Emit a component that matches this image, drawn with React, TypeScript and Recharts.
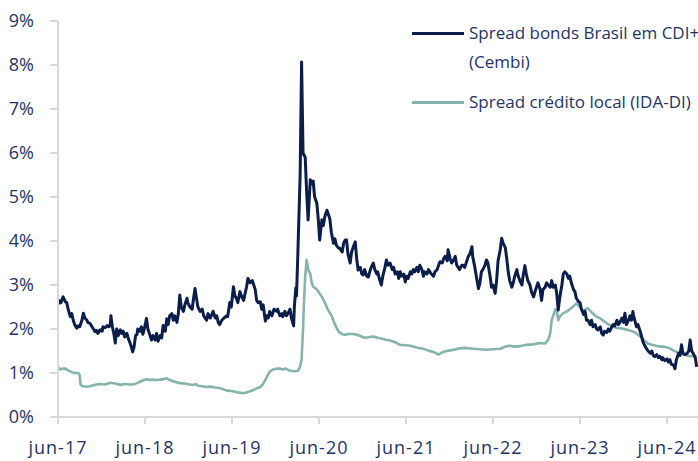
import React from "react";
import { LineChart, Line, XAxis, YAxis } from "recharts";

// x = months since jun-17, y = spread in %
const cembiMonths = [
  0, 0.1, 0.4, 0.7, 1.0, 1.2, 1.4, 1.7, 1.9, 2.1, 2.3, 2.6, 2.8, 3.0, 3.3, 3.5, 3.7, 4.0, 4.1, 4.4,
  4.7, 4.9, 5.1, 5.3, 5.5, 5.8, 6.1, 6.2, 6.5, 6.8, 7.0, 7.2, 7.3, 7.5, 7.7, 7.9, 8.1, 8.3, 8.6, 8.8,
  9.0, 9.2, 9.5, 9.7, 9.9, 10.1, 10.3, 10.5, 10.7, 10.9, 11.0, 11.3, 11.5, 11.7, 11.9, 12.2, 12.4, 12.6, 12.9, 13.1,
  13.4, 13.6, 13.8, 14.1, 14.3, 14.5, 14.8, 15.0, 15.2, 15.4, 15.7, 15.9, 16.1, 16.4, 16.6, 16.8, 17.0, 17.3, 17.5, 17.8,
  17.9, 18.2, 18.5, 18.7, 18.9, 19.1, 19.3, 19.6, 19.9, 20.1, 20.5, 20.7, 21.0, 21.2, 21.4, 21.7, 21.9, 22.1, 22.3, 22.6,
  22.9, 23.3, 23.4, 23.7, 23.9, 24.2, 24.4, 24.6, 24.8, 25.1, 25.3, 25.6, 25.8, 26.0, 26.2, 26.5, 26.8, 26.9, 27.2, 27.4,
  27.6, 27.9, 28.1, 28.3, 28.6, 28.8, 29.0, 29.2, 29.5, 29.8, 30.2, 30.3, 30.6, 30.9, 31.0, 31.3, 31.5, 31.7, 32.0, 32.2,
  32.5, 32.6, 32.8, 32.9, 33.1, 33.4, 33.6, 33.8, 34.1, 34.3, 34.5, 34.8, 35.0, 35.2, 35.4, 35.7, 35.9, 36.1, 36.4, 36.6,
  36.8, 37.1, 37.2, 37.5, 37.7, 38.0, 38.2, 38.4, 38.7, 38.9, 39.2, 39.4, 39.6, 39.8, 40.0, 40.3, 40.5, 40.7, 41.0, 41.2,
  41.4, 41.7, 41.9, 42.1, 42.3, 42.6, 42.8, 43.0, 43.2, 43.5, 43.7, 44.0, 44.1, 44.4, 44.6, 44.8, 45.1, 45.3, 45.5, 45.8,
  46.1, 46.3, 46.5, 46.8, 47.0, 47.2, 47.4, 47.7, 47.9, 48.1, 48.3, 48.6, 48.8, 49.0, 49.2, 49.5, 49.7, 49.9, 50.2, 50.4,
  50.6, 50.9, 51.1, 51.3, 51.5, 51.8, 52.0, 52.3, 52.5, 52.7, 53.0, 53.2, 53.4, 53.7, 53.8, 54.1, 54.3, 54.5, 54.8, 55.0,
  55.2, 55.4, 55.7, 55.9, 56.1, 56.4, 56.6, 56.8, 57.1, 57.2, 57.5, 57.8, 58.0, 58.2, 58.4, 58.6, 58.9, 59.1, 59.3, 59.6,
  59.8, 60.0, 60.3, 60.5, 60.7, 61.0, 61.2, 61.4, 61.7, 61.9, 62.1, 62.3, 62.6, 62.8, 63.0, 63.3, 63.4, 63.7, 64.0, 64.1,
  64.4, 64.6, 64.8, 65.1, 65.3, 65.6, 65.8, 66.1, 66.2, 66.5, 66.7, 66.9, 67.2, 67.4, 67.6, 67.9, 68.1, 68.3, 68.6, 68.8,
  69.0, 69.2, 69.5, 69.7, 69.9, 70.2, 70.4, 70.6, 70.8, 71.1, 71.3, 71.5, 71.8, 72.0, 72.2, 72.5, 72.7, 72.9, 73.1, 73.4,
  73.6, 73.8, 74.1, 74.3, 74.5, 74.8, 75.0, 75.2, 75.4, 75.7, 75.9, 76.1, 76.4, 76.6, 76.8, 77.1, 77.3, 77.5, 77.8, 78.0,
  78.2, 78.4, 78.7, 78.9, 79.1, 79.3, 79.4, 79.8, 80.0, 80.3, 80.5, 80.7, 81.0, 81.2, 81.4, 81.7, 81.9, 82.1, 82.3, 82.6,
  82.8, 83.0, 83.3, 83.4, 83.7, 84.0, 84.2, 84.4, 84.6, 84.9, 85.1, 85.3, 85.6, 85.8, 86.0, 86.2, 86.5, 86.8, 87.0, 87.2,
  87.4, 87.6, 87.9, 88.1,
];
const cembiValues = [
  2.55, 2.65, 2.6, 2.73, 2.62, 2.6, 2.45, 2.28, 2.35, 2.2, 2.1, 2.02, 2.07, 2.05, 2.2, 2.36, 2.25, 2.2, 2.15, 2.13,
  2.05, 2.0, 1.94, 1.97, 1.9, 1.98, 1.95, 2.05, 2.03, 2.08, 2.05, 2.08, 2.3, 2.05, 1.9, 1.68, 2.0, 1.85, 1.98, 1.9,
  1.95, 1.82, 1.9, 1.78, 1.7, 1.6, 1.48, 1.6, 1.85, 1.88, 2.0, 1.95, 2.05, 1.88, 2.0, 2.24, 2.0, 1.9, 1.75, 1.85,
  1.75, 1.9, 1.72, 1.85, 1.8, 2.08, 1.95, 2.23, 2.1, 2.3, 2.35, 2.2, 2.3, 2.15, 2.35, 2.77, 2.5, 2.4, 2.55, 2.7,
  2.6, 2.5, 2.45, 2.7, 2.92, 2.7, 2.5, 2.4, 2.45, 2.3, 2.2, 2.35, 2.25, 2.32, 2.4, 2.25, 2.3, 2.15, 2.1, 2.2,
  2.25, 2.3, 2.28, 2.6, 2.5, 2.96, 2.75, 2.7, 2.6, 2.85, 2.75, 2.65, 2.8, 2.95, 3.15, 3.05, 3.1, 3.05, 2.9, 2.65,
  2.6, 2.62, 2.45, 2.55, 2.18, 2.3, 2.25, 2.4, 2.3, 2.45, 2.4, 2.45, 2.3, 2.35, 2.28, 2.4, 2.3, 2.35, 2.45, 2.25,
  2.07, 2.5, 2.93, 2.75, 3.8, 5.5, 8.07, 6.0, 5.9, 5.09, 4.48, 5.39, 5.3, 5.36, 5.0, 4.86, 4.5, 4.02, 4.48, 4.35,
  4.55, 4.7, 4.65, 4.5, 4.2, 3.95, 4.05, 3.9, 3.84, 3.83, 3.75, 3.95, 4.02, 4.02, 3.7, 3.5, 3.75, 3.85, 3.98, 3.6,
  3.34, 3.4, 3.25, 3.23, 3.35, 3.2, 3.18, 3.3, 3.4, 3.5, 3.35, 3.25, 3.3, 3.1, 3.0, 3.2, 3.4, 3.57, 3.45, 3.5,
  3.35, 3.4, 3.25, 3.3, 3.15, 3.3, 3.2, 3.25, 3.07, 3.2, 3.15, 3.3, 3.25, 3.35, 3.3, 3.4, 3.3, 3.45, 3.35, 3.2,
  3.3, 3.25, 3.35, 3.3, 3.25, 3.2, 3.3, 3.35, 3.45, 3.53, 3.5, 3.6, 3.65, 3.55, 3.8, 3.6, 3.5, 3.55, 3.65, 3.45,
  3.4, 3.35, 3.45, 3.45, 3.4, 3.55, 3.65, 3.7, 3.87, 3.65, 3.4, 3.1, 2.92, 3.05, 3.3, 3.35, 3.45, 3.57, 3.5, 3.2,
  2.95, 3.0, 2.81, 3.1, 3.55, 3.8, 4.06, 3.95, 3.85, 3.6, 3.3, 3.1, 2.95, 3.05, 3.2, 3.35, 3.25, 3.1, 3.0, 3.15,
  3.44, 3.25, 3.1, 3.0, 2.85, 2.73, 2.85, 3.0, 3.05, 2.9, 2.65, 2.9, 2.95, 3.05, 3.0, 2.95, 3.1, 2.95, 3.0, 2.8,
  2.43, 2.7, 3.0, 3.25, 3.3, 3.25, 3.15, 3.2, 3.05, 2.9, 2.85, 2.7, 2.62, 2.6, 2.45, 2.33, 2.4, 2.2, 2.2, 2.1,
  2.2, 2.05, 2.1, 2.0, 1.98, 2.05, 1.9, 1.86, 1.95, 1.92, 2.0, 1.95, 2.05, 2.1, 2.07, 2.2, 2.1, 2.15, 2.25, 2.15,
  2.36, 2.1, 2.2, 2.3, 2.2, 2.4, 2.3, 2.05, 2.1, 1.95, 1.83, 1.7, 1.6, 1.55, 1.5, 1.45, 1.5, 1.4, 1.37, 1.42,
  1.35, 1.38, 1.3, 1.35, 1.28, 1.32, 1.25, 1.3, 1.2, 1.18, 1.1, 1.3, 1.45, 1.4, 1.64, 1.45, 1.42, 1.45, 1.5, 1.75,
  1.5, 1.45, 1.35, 1.14,
];

const idaMonths = [
  0, 0.3, 0.6, 1.0, 1.4, 1.9, 2.3, 2.8, 3.0, 3.1, 3.4, 4.0, 4.4, 5.1, 5.8, 6.5, 7.2, 7.9, 8.6, 9.2,
  9.9, 10.4, 10.9, 11.3, 11.7, 12.2, 12.7, 13.1, 13.6, 14.1, 14.5, 15.0, 15.4, 16.1, 16.8, 17.5, 18.2, 18.7, 19.0, 19.3,
  19.9, 20.4, 21.0, 21.7, 22.3, 23.3, 24.0, 24.8, 25.6, 26.2, 26.8, 27.4, 27.9, 28.3, 28.7, 29.0, 29.2, 29.7, 30.2, 30.6,
  31.0, 31.4, 32.0, 32.6, 33.1, 33.4, 33.6, 33.8, 33.9, 34.1, 34.3, 34.5, 34.8, 35.0, 35.2, 35.6, 35.9, 36.4, 36.8, 37.2,
  37.8, 38.2, 38.7, 39.2, 39.6, 40.3, 41.0, 41.7, 42.3, 43.0, 43.5, 44.1, 44.7, 45.3, 45.8, 46.5, 47.2, 47.9, 48.6, 49.0,
  49.7, 50.2, 50.9, 51.3, 51.9, 52.5, 53.0, 53.6, 54.3, 54.9, 55.4, 56.3, 57.3, 58.2, 59.1, 60.0, 61.0, 61.7, 62.3, 63.0,
  63.7, 64.6, 65.5, 66.5, 67.2, 67.6, 67.9, 68.1, 68.3, 68.6, 68.8, 69.0, 69.2, 69.7, 70.2, 70.6, 71.1, 71.5, 72.0, 72.5,
  72.8, 73.1, 73.5, 73.9, 74.3, 74.8, 75.3, 75.7, 76.1, 76.6, 77.1, 77.5, 78.1, 78.6, 79.2, 79.8, 80.3, 81.0, 81.4, 81.9,
  82.5, 83.0, 83.5, 84.0, 84.4, 84.8, 85.3, 85.8, 86.2, 86.8, 87.2, 87.6, 88.1,
];
const idaValues = [
  1.14, 1.08, 1.1, 1.1, 1.06, 1.02, 1.0, 1.0, 0.95, 0.74, 0.7, 0.69, 0.7, 0.73, 0.75, 0.74, 0.78, 0.76, 0.73, 0.75,
  0.74, 0.74, 0.77, 0.8, 0.83, 0.86, 0.84, 0.85, 0.84, 0.85, 0.86, 0.88, 0.84, 0.8, 0.77, 0.76, 0.74, 0.73, 0.75, 0.71,
  0.7, 0.68, 0.69, 0.67, 0.66, 0.6, 0.59, 0.56, 0.54, 0.57, 0.6, 0.65, 0.68, 0.75, 0.88, 0.97, 1.03, 1.08, 1.1, 1.1,
  1.08, 1.1, 1.05, 1.04, 1.05, 1.15, 1.3, 2.0, 2.5, 3.2, 3.57, 3.35, 3.25, 3.05, 2.96, 2.92, 2.85, 2.73, 2.6, 2.45,
  2.28, 2.1, 1.94, 1.88, 1.87, 1.89, 1.88, 1.84, 1.8, 1.82, 1.83, 1.8, 1.78, 1.75, 1.74, 1.7, 1.64, 1.63, 1.62, 1.6,
  1.57, 1.56, 1.52, 1.5, 1.47, 1.42, 1.47, 1.5, 1.52, 1.54, 1.56, 1.57, 1.55, 1.54, 1.53, 1.54, 1.55, 1.6, 1.62, 1.6,
  1.61, 1.64, 1.65, 1.68, 1.67, 1.75, 1.9, 2.2, 2.3, 2.45, 2.43, 2.2, 2.28, 2.36, 2.4, 2.45, 2.52, 2.58, 2.5, 2.4,
  2.45, 2.47, 2.4, 2.33, 2.28, 2.24, 2.18, 2.13, 2.09, 2.06, 2.02, 2.02, 2.0, 1.98, 1.95, 1.9, 1.83, 1.72, 1.67, 1.64,
  1.62, 1.6, 1.6, 1.58, 1.56, 1.52, 1.48, 1.45, 1.42, 1.4, 1.38, 1.38, 1.38,
];

const xTicks = [0, 12, 24, 36, 48, 60, 72, 84];
const xTickLabels = ["jun-17", "jun-18", "jun-19", "jun-20", "jun-21", "jun-22", "jun-23", "jun-24"];
const yTicks = [0, 1, 2, 3, 4, 5, 6, 7, 8, 9];

const cembiData = cembiMonths.map((m, i) => ({ m, v: cembiValues[i] }));
const idaData = idaMonths.map((m, i) => ({ m, v: idaValues[i] }));

const NAVY = "#0b1d4a";
const TEAL = "#86b3ac";
const TEXT = "#1d3468";
const AXIS = "#d9d9d9";
const FONT = "'Open Sans', sans-serif";

function LegendBox() {
  const txt: React.CSSProperties = {
    position: "absolute",
    left: 469,
    fontSize: 17,
    color: TEXT,
    fontFamily: FONT,
    lineHeight: "20px",
    whiteSpace: "nowrap",
  };
  return (
    <>
      <div style={{ position: "absolute", left: 412, top: 31.5, width: 52, height: 3, background: NAVY }} />
      <div style={{ ...txt, top: 23 }}>Spread bonds Brasil em CDI+</div>
      <div style={{ ...txt, top: 52 }}>(Cembi)</div>
      <div style={{ position: "absolute", left: 412, top: 100.5, width: 52, height: 3, background: TEAL }} />
      <div style={{ ...txt, top: 92 }}>Spread crédito local (IDA-DI)</div>
    </>
  );
}

export default function App() {
  return (
    <div style={{ position: "absolute", left: 0, top: 0, width: 698, height: 461, background: "#fff", overflow: "hidden" }}>
      <LineChart width={698} height={461} margin={{ top: 21, right: 0, bottom: 0, left: 0 }}>
        <XAxis
          dataKey="m"
          type="number"
          domain={[0, 88.28]}
          allowDataOverflow
          ticks={xTicks}
          tickFormatter={(v: number) => xTickLabels[xTicks.indexOf(v)]}
          height={44}
          stroke={AXIS}
          strokeWidth={2}
          tickSize={7}
          tickMargin={17}
          tick={{ fill: TEXT, fontSize: 18, fontFamily: FONT, letterSpacing: 1 }}
        />
        <YAxis
          type="number"
          domain={[0, 9]}
          ticks={yTicks}
          tickFormatter={(v: number) => `${v}%`}
          width={58}
          stroke={AXIS}
          strokeWidth={2}
          tickSize={8}
          tickMargin={16}
          tick={{ fill: TEXT, fontSize: 18, fontFamily: FONT }}
        />
        <Line
          data={idaData}
          dataKey="v"
          stroke={TEAL}
          strokeWidth={2.6}
          dot={false}
          isAnimationActive={false}
          strokeLinejoin="round"
        />
        <Line
          data={cembiData}
          dataKey="v"
          stroke={NAVY}
          strokeWidth={3}
          dot={false}
          isAnimationActive={false}
          strokeLinejoin="round"
        />
      </LineChart>
      <LegendBox />
    </div>
  );
}
